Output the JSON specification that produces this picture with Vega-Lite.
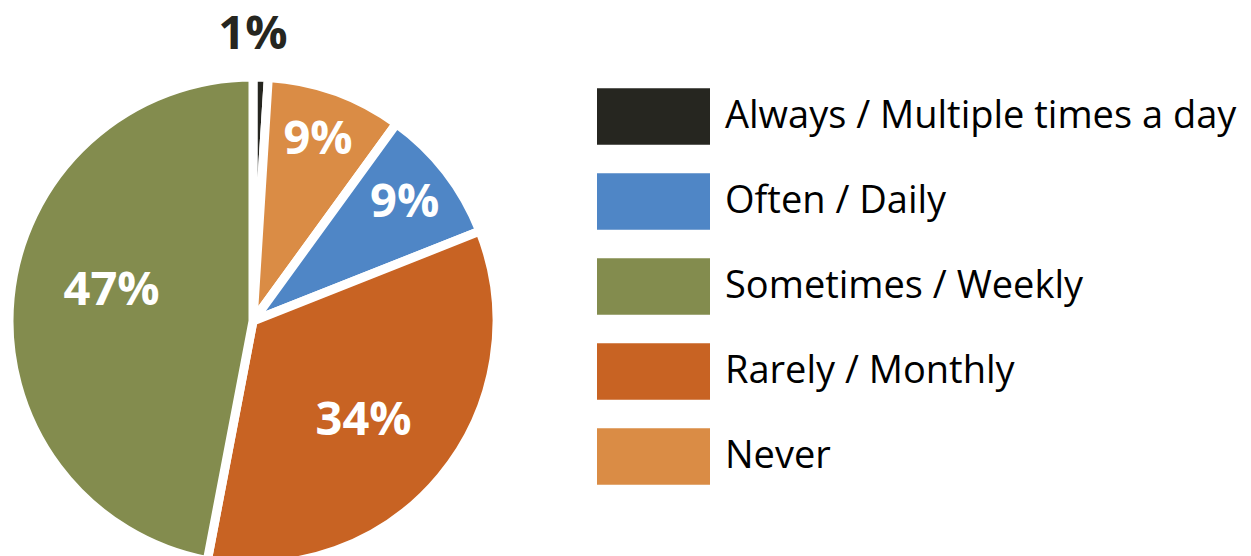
{
  "$schema": "https://vega.github.io/schema/vega-lite/v6.json",
  "width": 506,
  "height": 642,
  "autosize": "none",
  "padding": {"left": 0, "top": 0, "right": 745, "bottom": 0},
  "background": "white",
  "config": {"view": {"stroke": null}, "font": "Open Sans"},
  "data": {
    "values": [
      {"category": "Always / Multiple times a day", "value": 0.01},
      {"category": "Never", "value": 0.09},
      {"category": "Often / Daily", "value": 0.09},
      {"category": "Rarely / Monthly", "value": 0.34},
      {"category": "Sometimes / Weekly", "value": 0.47}
    ]
  },
  "encoding": {
    "theta": {"field": "value", "type": "quantitative", "stack": true}
  },
  "layer": [
    {
      "mark": {"type": "arc", "outerRadius": 244, "stroke": "white", "strokeWidth": 9},
      "encoding": {
        "color": {
          "field": "category",
          "type": "nominal",
          "scale": {
            "domain": ["Always / Multiple times a day", "Often / Daily", "Sometimes / Weekly", "Rarely / Monthly", "Never"],
            "range": ["#262620", "#4f86c6", "#838c4e", "#c86323", "#da8c45"]
          },
          "legend": {
            "orient": "none",
            "legendX": 597,
            "legendY": 60,
            "title": null,
            "symbolType": "M-1,-0.5H1V0.5H-1Z",
            "symbolSize": 12769,
            "symbolStrokeWidth": 0,
            "symbolOpacity": 1,
            "labelFont": "Open Sans",
            "labelFontSize": 38,
            "labelColor": "black",
            "labelLimit": 700,
            "labelOffset": 15,
            "rowPadding": 0,
            "encode": {"labels": {"update": {"dy": {"value": 3}}}}
          }
        }
      }
    },
    {
      "mark": {"type": "text", "radius": 192, "fontSize": 47, "fontWeight": "bold", "fill": "white", "font": "Open Sans", "align": "center", "baseline": "middle"},
      "encoding": {
        "detail": {"field": "category"},
        "text": {"condition": {"test": "datum.value >= 0.02 && datum.value < 0.2", "field": "value", "type": "quantitative", "format": ".0%"}, "value": ""}
      }
    },
    {
      "mark": {"type": "text", "radius": 150, "dx": -5, "dy": 4, "fontSize": 47, "fontWeight": "bold", "fill": "white", "font": "Open Sans", "align": "center", "baseline": "middle"},
      "encoding": {
        "detail": {"field": "category"},
        "text": {"condition": {"test": "datum.value >= 0.2 && datum.value < 0.4", "field": "value", "type": "quantitative", "format": ".0%"}, "value": ""}
      }
    },
    {
      "mark": {"type": "text", "radius": 146, "dx": 4, "dy": -16, "fontSize": 47, "fontWeight": "bold", "fill": "white", "font": "Open Sans", "align": "center", "baseline": "middle"},
      "encoding": {
        "detail": {"field": "category"},
        "text": {"condition": {"test": "datum.value >= 0.4", "field": "value", "type": "quantitative", "format": ".0%"}, "value": ""}
      }
    },
    {
      "mark": {"type": "text", "radius": 286, "dx": -9, "fontSize": 47, "fontWeight": "bold", "fill": "#262620", "font": "Open Sans", "align": "center", "baseline": "middle"},
      "encoding": {
        "detail": {"field": "category"},
        "text": {"condition": {"test": "datum.value < 0.02", "field": "value", "type": "quantitative", "format": ".0%"}, "value": ""}
      }
    }
  ]
}
